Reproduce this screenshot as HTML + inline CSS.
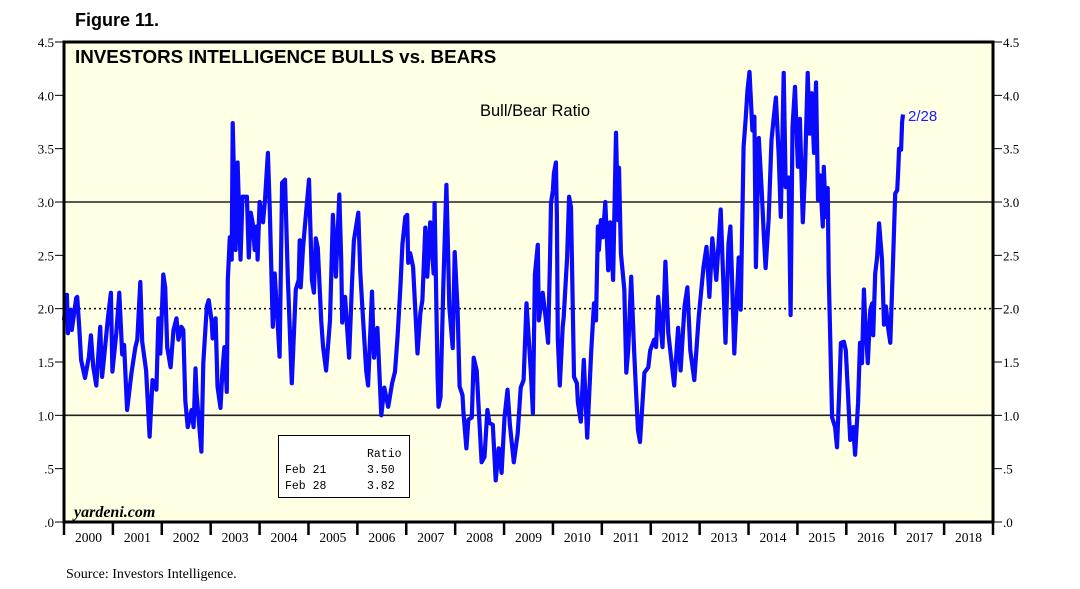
<!DOCTYPE html>
<html><head><meta charset="utf-8">
<style>
html,body{margin:0;padding:0;background:#fff;}
svg{display:block;}
</style></head>
<body>
<svg id="chart" width="1080" height="589" viewBox="0 0 1080 589" xmlns="http://www.w3.org/2000/svg">
  <text x="75" y="26" font-family="Liberation Sans, sans-serif" font-weight="bold" font-size="18">Figure 11.</text>
  <rect x="64" y="42" width="929" height="480" fill="#ffffe4"/>
  <g id="grid"></g>
  <g id="axes"></g>
  <path id="series" fill="none" stroke="#0a0aff" stroke-width="4.2" stroke-linejoin="round"/>
  <rect x="64" y="42" width="929" height="480" fill="none" stroke="#000" stroke-width="3"/>
  <text x="75" y="63" font-family="Liberation Sans, sans-serif" font-weight="bold" font-size="18.8">INVESTORS INTELLIGENCE BULLS vs. BEARS</text>
  <text x="535" y="116" text-anchor="middle" font-family="Liberation Sans, sans-serif" font-size="16.5">Bull/Bear Ratio</text>
  <text x="908" y="121" font-family="Liberation Sans, sans-serif" font-size="15" fill="#1a1aff">2/28</text>
  <text x="74" y="517" font-family="Liberation Serif, serif" font-style="italic" font-weight="bold" font-size="16">yardeni.com</text>
  <g>
    <rect x="278.5" y="435.5" width="131" height="62" fill="#fff" stroke="#000" stroke-width="1"/>
    <text x="367" y="457" font-family="Liberation Mono, monospace" font-size="11.5">Ratio</text>
    <text x="285" y="473" font-family="Liberation Mono, monospace" font-size="11.5">Feb 21</text>
    <text x="367" y="473" font-family="Liberation Mono, monospace" font-size="11.5">3.50</text>
    <text x="285" y="489" font-family="Liberation Mono, monospace" font-size="11.5">Feb 28</text>
    <text x="367" y="489" font-family="Liberation Mono, monospace" font-size="11.5">3.82</text>
  </g>
  <text x="66" y="578" font-family="Liberation Serif, serif" font-size="14">Source: Investors Intelligence.</text>
</svg>
<script>
const yTickValues = [0, 0.5, 1, 1.5, 2, 2.5, 3, 3.5, 4, 4.5];
const yTickLabels = [".0", ".5", "1.0", "1.5", "2.0", "2.5", "3.0", "3.5", "4.0", "4.5"];
const yearLabels = [2000,2001,2002,2003,2004,2005,2006,2007,2008,2009,2010,2011,2012,2013,2014,2015,2016,2017,2018];
const refLinesSolid = [1.0, 3.0];
const refLinesDotted = [2.0];
const dates = [0.00,0.06,0.08,0.14,0.16,0.25,0.27,0.31,0.35,0.43,0.51,0.55,0.60,0.66,0.74,0.78,0.84,0.90,0.96,0.99,
1.07,1.13,1.19,1.23,1.29,1.38,1.46,1.50,1.56,1.60,1.68,1.75,1.81,1.89,1.93,1.97,2.03,2.07,2.11,2.18,
2.24,2.30,2.34,2.40,2.44,2.48,2.53,2.61,2.65,2.69,2.71,2.81,2.85,2.92,2.96,3.02,3.04,3.10,3.14,3.20,
3.24,3.28,3.33,3.35,3.39,3.43,3.45,3.49,3.51,3.55,3.61,3.65,3.74,3.78,3.82,3.86,3.90,3.94,3.96,4.00,
4.07,4.11,4.17,4.21,4.27,4.31,4.35,4.41,4.46,4.52,4.58,4.66,4.74,4.80,4.82,4.84,4.89,5.01,5.07,5.11,
5.15,5.19,5.26,5.30,5.36,5.44,5.50,5.56,5.63,5.67,5.69,5.75,5.83,5.89,5.93,6.02,6.06,6.10,6.18,6.22,
6.30,6.34,6.41,6.49,6.55,6.63,6.71,6.77,6.82,6.88,6.92,6.98,7.02,7.04,7.08,7.14,7.23,7.29,7.33,7.39,
7.43,7.49,7.56,7.58,7.64,7.66,7.70,7.76,7.82,7.86,7.88,7.95,7.99,8.05,8.09,8.15,8.17,8.23,8.27,8.34,
8.38,8.44,8.48,8.54,8.60,8.66,8.70,8.77,8.83,8.89,8.95,9.01,9.07,9.12,9.20,9.28,9.34,9.40,9.46,9.55,
9.59,9.63,9.69,9.71,9.79,9.85,9.90,9.94,9.96,10.00,10.02,10.06,10.08,10.10,10.14,10.20,10.22,10.29,10.33,10.37,
10.41,10.43,10.49,10.51,10.57,10.63,10.70,10.78,10.84,10.88,10.92,10.94,10.98,11.02,11.07,11.13,11.17,11.23,11.29,11.33,
11.35,11.39,11.46,11.50,11.54,11.60,11.66,11.70,11.74,11.78,11.87,11.95,11.99,12.07,12.11,12.15,12.24,12.30,12.36,12.48,
12.56,12.61,12.69,12.75,12.81,12.89,12.98,13.08,13.14,13.20,13.26,13.34,13.43,13.51,13.53,13.59,13.63,13.71,13.80,13.84,
13.90,13.94,13.98,14.02,14.08,14.12,14.15,14.21,14.27,14.31,14.35,14.41,14.47,14.51,14.56,14.62,14.66,14.72,14.76,14.82,
14.86,14.90,14.95,15.01,15.05,15.11,15.15,15.21,15.25,15.29,15.34,15.38,15.42,15.46,15.52,15.54,15.58,15.62,15.64,15.71,
15.77,15.81,15.85,15.89,15.95,15.99,16.03,16.08,16.14,16.18,16.24,16.28,16.32,16.36,16.38,16.44,16.49,16.53,16.55,16.59,
16.63,16.67,16.73,16.77,16.81,16.86,16.90,16.96,17.00,17.04,17.06,17.08,17.10,17.12,17.14,17.16];
const ratios = [1.89,2.13,1.77,1.99,1.80,2.10,2.11,1.83,1.52,1.35,1.55,1.75,1.45,1.28,1.83,1.36,1.64,1.92,2.15,1.41,
1.77,2.15,1.57,1.66,1.05,1.40,1.64,1.71,2.25,1.69,1.42,0.80,1.33,1.24,1.91,1.58,2.32,2.20,1.64,1.45,
1.80,1.91,1.71,1.83,1.80,1.14,0.89,1.05,0.89,1.44,1.21,0.66,1.49,2.02,2.08,1.88,1.72,1.91,1.27,1.07,
1.42,1.64,1.22,2.27,2.67,2.46,3.74,3.02,2.55,3.37,2.46,3.05,3.05,2.48,2.90,2.80,2.55,2.77,2.46,3.00,
2.81,3.02,3.46,2.92,1.83,2.33,2.02,1.55,3.18,3.21,2.27,1.30,2.18,2.27,2.64,2.20,2.58,3.21,2.27,2.15,
2.66,2.57,1.89,1.64,1.42,1.89,2.88,2.30,3.07,2.46,1.87,2.11,1.54,2.24,2.64,2.90,2.34,2.02,1.42,1.28,
2.16,1.54,1.82,1.00,1.26,1.08,1.30,1.41,1.73,2.20,2.60,2.86,2.88,2.43,2.52,2.39,1.58,1.96,2.08,2.76,
2.30,2.81,2.33,2.99,1.36,1.08,1.17,2.24,3.16,2.44,2.02,1.63,2.53,1.99,1.27,1.19,1.02,0.69,0.96,0.98,
1.54,1.42,1.08,0.56,0.61,1.05,0.93,0.91,0.39,0.69,0.46,0.98,1.24,0.91,0.56,0.83,1.26,1.33,2.05,1.40,
1.02,2.32,2.60,1.89,2.15,1.92,1.68,2.46,2.99,3.11,3.27,3.37,2.86,1.72,1.28,1.83,1.92,2.48,3.05,2.95,
1.89,1.36,1.30,1.12,0.94,1.52,0.79,1.58,2.05,1.89,2.77,2.55,2.83,2.67,3.00,2.36,2.81,2.27,3.65,2.83,
3.32,2.52,2.18,1.40,1.61,2.30,1.61,1.21,0.86,0.75,1.40,1.45,1.61,1.71,1.64,2.11,1.64,2.44,1.77,1.28,
1.82,1.42,2.02,2.20,1.61,1.33,1.92,2.39,2.58,2.11,2.66,2.27,2.93,1.92,1.68,2.61,2.77,1.58,2.48,1.99,
3.52,3.77,4.05,4.22,3.67,3.80,2.39,3.60,3.11,2.71,2.38,2.83,3.58,3.77,3.98,3.42,2.86,4.21,3.14,3.23,
1.94,3.70,4.08,3.33,3.78,2.81,3.23,4.21,3.64,4.02,3.46,4.12,3.02,3.25,2.77,3.33,2.86,3.13,2.33,0.98,
0.89,0.70,1.17,1.68,1.69,1.61,1.24,0.77,0.89,0.63,1.12,1.68,1.49,2.18,1.96,1.49,1.99,2.05,1.75,2.33,
2.48,2.80,2.46,1.85,2.02,1.80,1.68,2.52,3.08,3.11,3.27,3.50,3.49,3.49,3.75,3.82];

const NS = "http://www.w3.org/2000/svg";
const L = 64, R = 993, T = 42, B = 522;
const yMax = 4.5;
const yearW = (R - L) / yearLabels.length;
function xScale(yrOffset){ return L + yrOffset * yearW; }
function yScale(v){ return B - v / yMax * (B - T); }
function mk(tag, attrs, parent){ const e = document.createElementNS(NS, tag); for (const k in attrs) e.setAttribute(k, attrs[k]); parent.appendChild(e); return e; }

const grid = document.getElementById('grid');
const axes = document.getElementById('axes');

refLinesSolid.forEach(v => {
  const ln = mk('line', {x1:L, x2:R, y1:yScale(v), y2:yScale(v), stroke:'#222', 'stroke-width':1.6}, grid);
  
  
});
refLinesDotted.forEach(v => {
  const ln = mk('line', {x1:L, x2:R, y1:yScale(v), y2:yScale(v), stroke:'#000', 'stroke-width':1.5, 'stroke-dasharray':'2,3'}, grid);
  
  
});

yTickValues.forEach((v, i) => {
  const y = yScale(v);
  const t1 = mk('line', {x1:L-9, x2:L, y1:y, y2:y, stroke:'#000', 'stroke-width':1}, axes);
  
  
  const t2 = mk('line', {x1:R, x2:R+9, y1:y, y2:y, stroke:'#000', 'stroke-width':1}, axes);
  
  
  const lt = mk('text', {x:L-10, y:y+5, 'text-anchor':'end', 'font-family':'Liberation Serif, serif', 'font-size':13}, axes);
  lt.textContent = yTickLabels[i];
  
  
  const rt = mk('text', {x:R+10, y:y+5, 'font-family':'Liberation Serif, serif', 'font-size':13}, axes);
  rt.textContent = yTickLabels[i];
  
  
});

for (let i = 0; i <= yearLabels.length; i++) {
  const x = xScale(i);
  const tk = mk('line', {x1:x, x2:x, y1:B, y2:B+13, stroke:'#000', 'stroke-width':2.5}, axes);
  
  
}
yearLabels.forEach((yr, i) => {
  const t = mk('text', {x:xScale(i + 0.5), y:B+20, 'text-anchor':'middle', 'font-family':'Liberation Serif, serif', 'font-size':13.5}, axes);
  t.textContent = yr;
  
  
});

let d = '';
dates.forEach((dt, i) => { d += (i ? 'L' : 'M') + xScale(dt).toFixed(1) + ',' + yScale(ratios[i]).toFixed(1); });
document.getElementById('series').setAttribute('d', d);
</script>
</body></html>
